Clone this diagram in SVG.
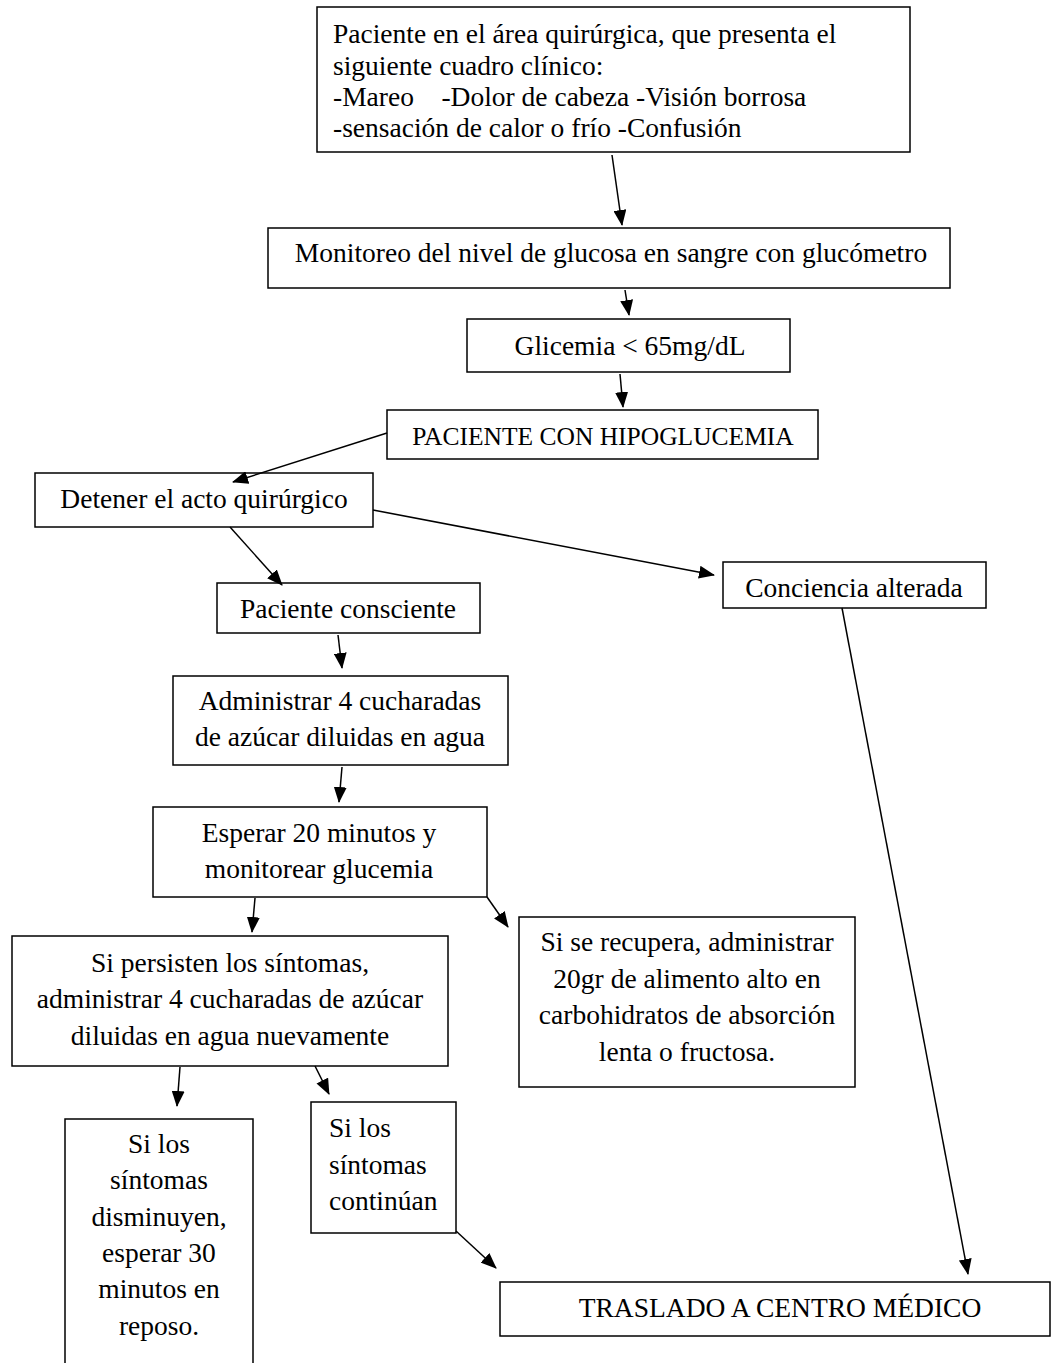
<svg xmlns="http://www.w3.org/2000/svg" width="1054" height="1363" viewBox="0 0 1054 1363">
<style>
.b{fill:#fff;stroke:#000;stroke-width:1.5}
.t{font-family:"Liberation Serif","Times New Roman",serif;font-size:27.5px;fill:#000}
.c{text-anchor:middle}
.e{stroke:#000;stroke-width:1.5;fill:none;marker-end:url(#a)}
</style>
<defs>
<marker id="a" markerWidth="16" markerHeight="13" refX="15" refY="6.5" orient="auto" markerUnits="userSpaceOnUse" viewBox="0 0 16 13">
<path d="M0,0 L16,6.5 L0,13 z" fill="#000"/>
</marker>
</defs>
<rect width="1054" height="1363" fill="#fff"/>
<g id="n1"><rect class="b" x="317" y="7" width="593" height="145"/>
<text class="t" x="333" y="43">Paciente en el área quirúrgica, que presenta el</text>
<text class="t" x="333" y="75">siguiente cuadro clínico:</text>
<text class="t" x="333" y="106" xml:space="preserve">-Mareo    -Dolor de cabeza -Visión borrosa</text>
<text class="t" x="333" y="137">-sensación de calor o frío -Confusión</text></g>
<g id="n2"><rect class="b" x="268" y="228" width="682" height="60"/>
<text class="t c" x="611" y="262">Monitoreo del nivel de glucosa en sangre con glucómetro</text></g>
<g id="n3"><rect class="b" x="467" y="319" width="323" height="53"/>
<text class="t c" x="630" y="355">Glicemia &lt; 65mg/dL</text></g>
<g id="n4"><rect class="b" x="387" y="410" width="431" height="49"/>
<text class="t c" x="603" y="445" style="font-size:25.5px">PACIENTE CON HIPOGLUCEMIA</text></g>
<g id="n5"><rect class="b" x="35" y="473" width="338" height="54"/>
<text class="t c" x="204" y="508">Detener el acto quirúrgico</text></g>
<g id="n6"><rect class="b" x="723" y="562" width="263" height="46"/>
<text class="t c" x="854" y="597">Conciencia alterada</text></g>
<g id="n7"><rect class="b" x="217" y="583" width="263" height="50"/>
<text class="t c" x="348" y="618">Paciente consciente</text></g>
<g id="n8"><rect class="b" x="173" y="676" width="335" height="89"/>
<text class="t c" x="340" y="710">Administrar 4 cucharadas</text>
<text class="t c" x="340" y="746">de azúcar diluidas en agua</text></g>
<g id="n9"><rect class="b" x="153" y="807" width="334" height="90"/>
<text class="t c" x="319" y="842">Esperar 20 minutos y</text>
<text class="t c" x="319" y="878">monitorear glucemia</text></g>
<g id="n10"><rect class="b" x="12" y="936" width="436" height="130"/>
<text class="t c" x="230" y="972">Si persisten los síntomas,</text>
<text class="t c" x="230" y="1008">administrar 4 cucharadas de azúcar</text>
<text class="t c" x="230" y="1045">diluidas en agua nuevamente</text></g>
<g id="n11"><rect class="b" x="519" y="917" width="336" height="170"/>
<text class="t c" x="687" y="951">Si se recupera, administrar</text>
<text class="t c" x="687" y="988">20gr de alimento alto en</text>
<text class="t c" x="687" y="1024">carbohidratos de absorción</text>
<text class="t c" x="687" y="1061">lenta o fructosa.</text></g>
<g id="n12"><path class="b" d="M65,1370 V1119 H253 V1370"/>
<text class="t c" x="159" y="1153">Si los</text>
<text class="t c" x="159" y="1189">síntomas</text>
<text class="t c" x="159" y="1226">disminuyen,</text>
<text class="t c" x="159" y="1262">esperar 30</text>
<text class="t c" x="159" y="1298">minutos en</text>
<text class="t c" x="159" y="1335">reposo.</text></g>
<g id="n13"><rect class="b" x="311" y="1102" width="145" height="131"/>
<text class="t" x="329" y="1137">Si los</text>
<text class="t" x="329" y="1174">síntomas</text>
<text class="t" x="329" y="1210">continúan</text></g>
<g id="n14"><rect class="b" x="500" y="1282" width="550" height="54"/>
<text class="t c" x="780" y="1317">TRASLADO A CENTRO MÉDICO</text></g>
<g id="connectors">
<line class="e" x1="612" y1="155" x2="622" y2="225"/>
<line class="e" x1="625" y1="290" x2="629" y2="315"/>
<line class="e" x1="620" y1="374" x2="623" y2="407"/>
<line class="e" x1="387" y1="433" x2="233" y2="482"/>
<line class="e" x1="230" y1="527" x2="282" y2="585"/>
<line class="e" x1="373" y1="510" x2="714" y2="575"/>
<line class="e" x1="338" y1="635" x2="342" y2="668"/>
<line class="e" x1="342" y1="767" x2="339" y2="802"/>
<line class="e" x1="255" y1="898" x2="252" y2="932"/>
<line class="e" x1="487" y1="897" x2="508" y2="927"/>
<line class="e" x1="180" y1="1067" x2="177" y2="1106"/>
<line class="e" x1="315" y1="1066" x2="329" y2="1094"/>
<line class="e" x1="456" y1="1231" x2="496" y2="1268"/>
<line class="e" x1="842" y1="608" x2="968" y2="1274"/>
</g>
</svg>
